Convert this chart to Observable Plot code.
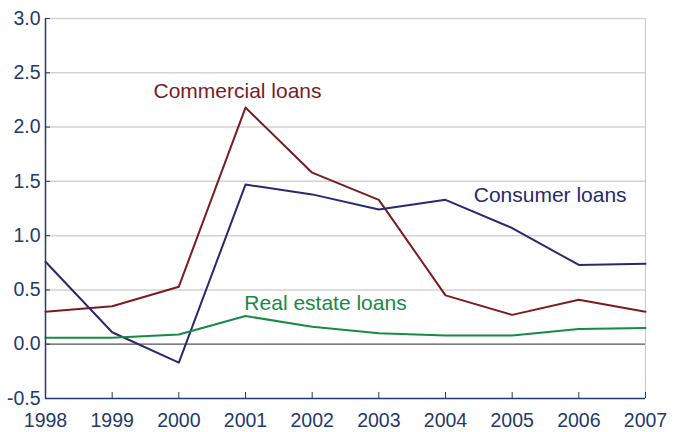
<!DOCTYPE html>
<html>
<head>
<meta charset="utf-8">
<script src="https://cdn.jsdelivr.net/npm/d3@7"></script>
<script src="https://cdn.jsdelivr.net/npm/@observablehq/plot@0.6"></script>
<style>
  body { margin: 0; background: #fff; }
  #chart svg { display: block; }
</style>
</head>
<body>
<div id="chart"></div>
<script>
const years = [1998, 1999, 2000, 2001, 2002, 2003, 2004, 2005, 2006, 2007];
const commercial = [0.30, 0.35, 0.53, 2.18, 1.58, 1.33, 0.45, 0.27, 0.41, 0.30];
const consumer = [0.76, 0.11, -0.17, 1.47, 1.38, 1.24, 1.33, 1.07, 0.73, 0.74];
const realEstate = [0.06, 0.06, 0.09, 0.26, 0.16, 0.10, 0.08, 0.08, 0.14, 0.15];
const yTicks = [-0.5, 0, 0.5, 1.0, 1.5, 2.0, 2.5, 3.0];
const seriesNames = ["Commercial loans", "Consumer loans", "Real estate loans"];
const seriesColors = ["#7c1b1f", "#28296f", "#178a45"];
const labelPos = [
  {name: "Commercial loans", x: 2000.88, y: 2.33},
  {name: "Consumer loans", x: 2005.57, y: 1.37},
  {name: "Real estate loans", x: 2002.2, y: 0.38}
];

const series = [commercial, consumer, realEstate];
const data = [];
series.forEach((vals, i) => vals.forEach((v, j) => data.push({series: seriesNames[i], year: years[j], value: v})));

const axisColor = "#243a6c";
const chart = Plot.plot({
  width: 674,
  height: 432,
  marginLeft: 45,
  marginRight: 29,
  marginTop: 18,
  marginBottom: 34,
  style: {fontFamily: "Liberation Sans, Arial, sans-serif", fontSize: "19px", color: axisColor, background: "#fff"},
  x: {domain: [1998, 2007]},
  y: {domain: [-0.5, 3.0]},
  color: {domain: seriesNames, range: seriesColors},
  marks: [
    Plot.ruleY(yTicks.filter(d => d !== 0 && d !== -0.5), {stroke: "#d2d2d2", strokeWidth: 1.5}),
    Plot.ruleX([2007], {stroke: "#c8c8c8", strokeWidth: 1}),
    Plot.ruleY([0], {stroke: "#555555", strokeWidth: 1.2}),
    Plot.line(data, {x: "year", y: "value", z: "series", stroke: "series", strokeWidth: 2}),
    Plot.text(labelPos, {x: "x", y: "y", text: "name", fill: (d, i) => seriesColors[i], fontSize: 21, textAnchor: "middle"}),
    Plot.axisY({ticks: yTicks, tickFormat: d => d.toFixed(1), tickSize: -5, tickPadding: 10, stroke: axisColor, color: axisColor, fontSize: 19.5, label: null}),
    Plot.axisX({ticks: years, tickFormat: d => String(d), tickSize: -6, tickPadding: 21, stroke: axisColor, color: axisColor, fontSize: 19.5, label: null}),
    Plot.ruleX([1998], {stroke: axisColor, strokeWidth: 1.5}),
    Plot.ruleY([-0.5], {stroke: axisColor, strokeWidth: 1.5})
  ]
});
document.getElementById("chart").appendChild(chart);
</script>
</body>
</html>
